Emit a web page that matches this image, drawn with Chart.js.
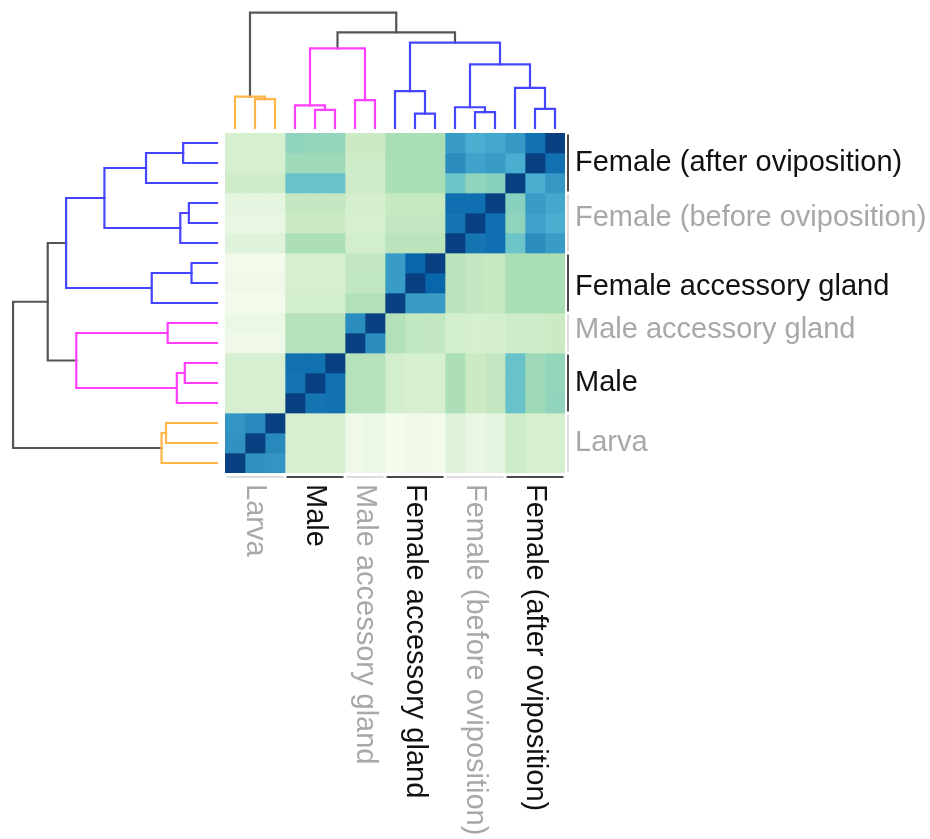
<!DOCTYPE html>
<html>
<head>
<meta charset="utf-8">
<script src="https://cdn.jsdelivr.net/npm/chart.js@4.4.1/dist/chart.umd.min.js"></script>
<style>
  html,body{margin:0;padding:0;background:#fff;}
  #wrap{position:relative;width:930px;height:839px;}
  #wrap canvas{position:absolute;left:0;top:0;}
</style>
</head>
<body>
<div id="wrap">
  <canvas id="heat" width="930" height="839"></canvas>
  <canvas id="dTop" width="930" height="839"></canvas>
  <canvas id="dLeft" width="930" height="839"></canvas>
</div>
<script>
// ── DATA ──
const groups = ['Larva','Male','Male accessory gland','Female accessory gland','Female (before oviposition)','Female (after oviposition)'];
const groupSizes = [3,3,2,3,3,3];

// similarity between samples (sample order = dendrogram leaf order, left->right / bottom->top)
const similarity = [
  [1.00,.73,.72, .18,.18,.18, .04,.06, .02,.04,.03, .13,.08,.10, .23,.19,.18],
  [.73,1.00,.76, .18,.18,.18, .04,.06, .02,.04,.03, .13,.08,.10, .23,.19,.18],
  [.72,.76,1.00, .18,.18,.18, .04,.06, .02,.04,.03, .13,.08,.10, .23,.19,.18],
  [.18,.18,.18, 1.00,.83,.84, .33,.33, .21,.18,.18, .36,.25,.28, .55,.40,.44],
  [.18,.18,.18, .83,1.00,.84, .33,.33, .21,.18,.18, .36,.25,.28, .55,.40,.43],
  [.18,.18,.18, .84,.84,1.00, .33,.33, .21,.18,.18, .36,.25,.28, .55,.40,.43],
  [.04,.04,.04, .33,.33,.33, 1.00,.75, .34,.29,.28, .21,.19,.20, .23,.24,.25],
  [.06,.06,.06, .33,.33,.33, .75,1.00, .34,.29,.28, .21,.19,.20, .23,.24,.25],
  [.02,.02,.02, .21,.21,.21, .34,.34, 1.00,.70,.70, .31,.28,.27, .37,.37,.37],
  [.04,.04,.04, .18,.18,.18, .29,.29, .70,1.00,.88, .31,.28,.27, .37,.37,.37],
  [.03,.03,.03, .18,.18,.18, .28,.28, .70,.88,1.00, .31,.28,.27, .37,.37,.37],
  [.13,.13,.13, .36,.36,.36, .21,.21, .31,.31,.31, 1.00,.83,.85, .54,.75,.70],
  [.08,.08,.08, .25,.25,.25, .19,.19, .28,.28,.28, .83,1.00,.85, .44,.68,.64],
  [.10,.10,.10, .28,.28,.28, .20,.20, .27,.27,.27, .85,.85,1.00, .46,.70,.66],
  [.23,.23,.23, .55,.55,.55, .23,.23, .37,.37,.37, .54,.44,.46, 1.00,.64,.71],
  [.19,.19,.19, .40,.40,.40, .24,.24, .37,.37,.37, .75,.68,.70, .64,1.00,.84],
  [.18,.18,.18, .44,.43,.43, .25,.25, .37,.37,.37, .70,.64,.66, .71,.84,1.00]
];

// linkage: [a, b, height] -- leaves 0..16, merged clusters numbered 17+
const merges = [
  [1,2,.250],[0,17,.272],
  [4,5,.158],[3,19,.197],[6,7,.242],[20,21,.690],
  [9,10,.125],[8,23,.320],
  [12,13,.138],[11,25,.180],
  [15,16,.166],[14,27,.348],
  [26,28,.552],[24,29,.740],
  [22,30,.830],[18,31,1.000]
];

// ── STYLE ──
const GNBU = ['#f7fcf0','#e0f3db','#ccebc5','#a8ddb5','#7bccc4','#4eb3d3','#2b8cbe','#0868ac','#084081'];
const CUT = 0.78;
const PAL = ['#ffb547','#ff3dff','#4545ff'];
const GREY = '#555';
const FONT = '29px "Liberation Sans", Arial, Helvetica, sans-serif';
const rightNudge = [0,0,-3,4,-5,0];

const samples = groups.flatMap((g,gi)=>Array.from({length:groupSizes[gi]},(_,k)=>g+' '+(k+1)));
const N = samples.length;

function hex2rgb(h){return [1,3,5].map(i=>parseInt(h.substr(i,2),16));}
function gnbu(t){
  t=Math.max(0,Math.min(1,t))*(GNBU.length-1);
  const i=Math.min(Math.floor(t),GNBU.length-2), f=t-i;
  const a=hex2rgb(GNBU[i]), b=hex2rgb(GNBU[i+1]);
  return `rgb(${a.map((v,k)=>Math.round(v+(b[k]-v)*f)).join(',')})`;
}

// segmentos del dendrograma (pos = posicion de hoja, h = altura)
function dendroLinks(){
  const pos=samples.map((_,i)=>i+0.5), hgt=samples.map(()=>0);
  return merges.map(([a,b,h])=>{
    const l={p1:pos[a],h1:hgt[a],p2:pos[b],h2:hgt[b],h};
    pos.push((pos[a]+pos[b])/2); hgt.push(h);
    return l;
  });
}
function linkColors(){
  const parent={};
  merges.forEach(([a,b],k)=>{parent[a]=N+k;parent[b]=N+k;});
  const h=id=>id<N?0:merges[id-N][2];
  const tops=[];
  return merges.map((m,k)=>{
    if(m[2]>CUT) return GREY;
    let id=N+k;
    while(parent[id]!==undefined && h(parent[id])<=CUT) id=parent[id];
    if(!tops.includes(id)) tops.push(id);
    return PAL[tops.indexOf(id)%PAL.length];
  });
}
const links=dendroLinks(), lcol=linkColors();

function dendroSets(horizontal){
  return links.map((l,k)=>{
    let pts=[[l.p1,l.h1],[l.p1,l.h],[l.p2,l.h],[l.p2,l.h2]];
    pts=pts.map(([p,h])=>horizontal?{x:h,y:p}:{x:p,y:h});
    return {data:pts,showLine:true,pointRadius:0,borderWidth:2.2,borderColor:lcol[k],tension:0,clip:false,borderCapStyle:'square'};
  });
}
const baseOpts={responsive:false,animation:false,events:[],plugins:{legend:{display:false},tooltip:{enabled:false}}};

// ── DENDROGRAMA SUPERIOR ──
new Chart(document.getElementById('dTop'),{
  type:'scatter',
  data:{datasets:dendroSets(false)},
  options:{...baseOpts,layout:{padding:{left:225,right:365,top:0,bottom:711}},
    scales:{x:{type:'linear',min:0,max:N,display:false},y:{type:'linear',min:0,max:1.11,display:false}}}
});

// ── DENDROGRAMA IZQUIERDO ──
new Chart(document.getElementById('dLeft'),{
  type:'scatter',
  data:{datasets:dendroSets(true)},
  options:{...baseOpts,layout:{padding:{left:0,right:713,top:133,bottom:366}},
    scales:{x:{type:'linear',min:0,max:1.064,reverse:true,display:false},y:{type:'linear',min:0,max:N,display:false}}}
});

// ── HEATMAP + etiquetas ──
const labelPlugin={id:'grupos',afterDraw(chart){
  const {ctx,scales:{x,y},chartArea:ca}=chart;
  const half=Math.abs(y.getPixelForValue(1)-y.getPixelForValue(0))/2;
  ctx.save();
  ctx.font=FONT;
  let s=0;
  groups.forEach((g,gi)=>{
    const a=s, b=s+groupSizes[gi]-1; s+=groupSizes[gi];
    const dark=gi%2===1;
    const top=y.getPixelForValue(b)-half, bot=y.getPixelForValue(a)+half;
    const left=x.getPixelForValue(a), right=x.getPixelForValue(b+1);
    // barras de grupo
    ctx.fillStyle=dark?'#4a4a4a':'#dcdcdc';
    ctx.fillRect(ca.right+2,top+1.5,2,bot-top-3);
    ctx.fillRect(left+1.5,ca.bottom+3,right-left-3,2);
    // texto
    ctx.fillStyle=dark?'#111':'#a8a8a8';
    ctx.textAlign='left'; ctx.textBaseline='middle';
    ctx.fillText(g,ca.right+10,(top+bot)/2+rightNudge[gi]);
    ctx.save();
    ctx.translate((left+right)/2,ca.bottom+11);
    ctx.rotate(Math.PI/2);
    ctx.fillText(g,0,0);
    ctx.restore();
  });
  ctx.restore();
}};

new Chart(document.getElementById('heat'),{
  type:'bar',
  data:{labels:samples,datasets:samples.map((sj,j)=>({
    label:sj,
    data:samples.map(()=>[j,j+1]),
    backgroundColor:samples.map((_,i)=>gnbu(similarity[i][j])),
    borderWidth:0,barPercentage:1,categoryPercentage:1,grouped:false
  }))},
  options:{...baseOpts,indexAxis:'y',layout:{padding:{left:225,top:133,right:365,bottom:366}},
    scales:{x:{type:'linear',min:0,max:N,display:false},y:{reverse:true,display:false}}},
  plugins:[labelPlugin]
});
</script>
</body>
</html>
